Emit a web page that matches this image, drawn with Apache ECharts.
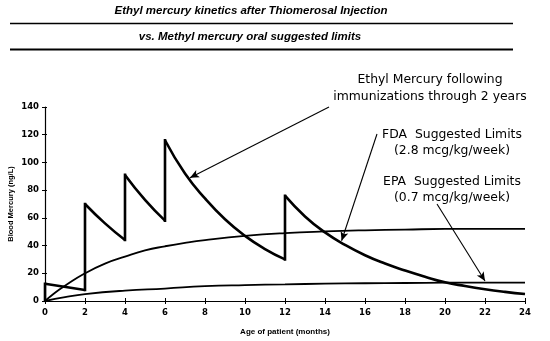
<!DOCTYPE html>
<html>
<head>
<meta charset="utf-8">
<script src="https://cdn.jsdelivr.net/npm/echarts@6/dist/echarts.min.js"></script>
<style>
html,body{margin:0;padding:0;background:#fff;}
#chart{width:550px;height:341px;}
</style>
</head>
<body>
<div id="chart"></div>
<script>
// Age (months) and blood mercury (ng/L)
var ethylX = [0, 0, 2, 2, 3, 4, 4, 5, 6, 6, 7, 8, 9, 10, 11, 12, 12, 13, 14, 15, 16, 17, 18, 19, 20, 21, 22, 23, 24];
var ethylY = [0, 12.5, 8, 70, 56, 44, 91, 73, 58, 116, 92, 74, 59, 47, 37.5, 30, 76, 61, 49.5, 40.5, 33, 27, 22, 17.5, 13.5, 10.8, 8.5, 6.6, 5];

var fdaX = [0, 0.5, 1, 2, 3, 4, 5, 6, 7, 8, 10, 12, 14, 16, 18, 20, 22, 24];
var fdaY = [0, 6, 11, 20, 27, 32, 36.5, 39.5, 42, 44, 47, 49, 50.2, 51, 51.5, 52, 52, 52];

var epaX = [0, 1, 2, 4, 6, 8, 10, 12, 14, 16, 18, 20, 22, 24];
var epaY = [0, 2.8, 5, 7.5, 9, 10.7, 11.5, 12, 12.5, 12.8, 13, 13.2, 13.3, 13.3];

var xTicks = [0, 2, 4, 6, 8, 10, 12, 14, 16, 18, 20, 22, 24];
var yTicks = [0, 20, 40, 60, 80, 100, 120, 140];

var titleLines = ['Ethyl mercury kinetics after Thiomerosal Injection', 'vs. Methyl mercury oral suggested limits'];
var noteEthyl = ['Ethyl Mercury following', 'immunizations through 2 years'];
var noteFda = ['FDA  Suggested Limits', '(2.8 mcg/kg/week)'];
var noteEpa = ['EPA  Suggested Limits', '(0.7 mcg/kg/week)'];

// arrow endpoints in data units [from, to]
var arrowEthyl = [[14.2, 140], [7.25, 89]];
var arrowFda = [[16.6, 120.5], [14.83, 43.5]];
var arrowEpa = [[19.6, 70], [22, 14.4]];

function pairs(xs, ys) { return xs.map(function (x, i) { return [x, ys[i]]; }); }

var chart = echarts.init(document.getElementById('chart'), null, {renderer: 'canvas'});

var series = [];
var pts = pairs(ethylX, ethylY);
var seg = [];
function pushSeg(s) {
  if (s.length > 1) series.push({type: 'line', data: s, smooth: s.length > 2 ? 0.5 : false, showSymbol: false,
    lineStyle: {color: '#000', width: 2.6}, animation: false, silent: true});
}
for (var i = 0; i < pts.length; i++) {
  if (i > 0 && pts[i][0] === pts[i - 1][0]) {
    pushSeg(seg);
    series.push({type: 'line', data: [pts[i - 1], pts[i]], showSymbol: false,
      lineStyle: {color: '#000', width: 2.6, cap: 'square'}, animation: false, silent: true});
    seg = [pts[i]];
  } else {
    seg.push(pts[i]);
  }
}
pushSeg(seg);

series.push({type: 'line', data: pairs(fdaX, fdaY), smooth: 0.5, showSymbol: false,
  lineStyle: {color: '#000', width: 1.8}, animation: false, silent: true});
series.push({type: 'line', data: pairs(epaX, epaY), smooth: 0.5, showSymbol: false,
  lineStyle: {color: '#000', width: 1.8}, animation: false, silent: true,
  markLine: {
    silent: true, animation: false, symbol: ['none', 'arrow'], symbolSize: [6, 9],
    label: {show: false},
    lineStyle: {color: '#000', width: 1.1, type: 'solid'},
    data: [arrowEthyl, arrowFda, arrowEpa].map(function (a) { return [{coord: a[0]}, {coord: a[1]}]; })
  }});

var tickFont = {fontFamily: 'DejaVu Sans', fontWeight: 'bold', fontSize: 8.5, color: '#000'};
var noteFont = '12.4px "DejaVu Sans", sans-serif';

var graphic = [
  {type: 'text', position: [251, 11], style: {text: titleLines[0], textAlign: 'center', textVerticalAlign: 'middle',
    font: 'italic bold 11.5px "Liberation Sans", Arial, sans-serif', fill: '#000'}},
  {type: 'line', shape: {x1: 10, y1: 23.5, x2: 513, y2: 23.5}, style: {stroke: '#000', lineWidth: 1.4}},
  {type: 'text', position: [250, 37], style: {text: titleLines[1], textAlign: 'center', textVerticalAlign: 'middle',
    font: 'italic bold 11.5px "Liberation Sans", Arial, sans-serif', fill: '#000'}},
  {type: 'line', shape: {x1: 10, y1: 49.5, x2: 513, y2: 49.5}, style: {stroke: '#000', lineWidth: 2}}
];
function note(lines, cx, y1, y2) {
  graphic.push({type: 'text', position: [cx, y1], style: {text: lines[0], textAlign: 'center', textVerticalAlign: 'middle',
    font: noteFont, fill: '#000'}});
  graphic.push({type: 'text', position: [cx, y2], style: {text: lines[1], textAlign: 'center', textVerticalAlign: 'middle',
    font: noteFont, fill: '#000'}});
}
note(noteEthyl, 430, 80, 97);
note(noteFda, 452, 135, 151);
note(noteEpa, 452, 182, 198);

chart.setOption({
  animation: false,
  backgroundColor: '#fff',
  grid: {left: 45, right: 25, top: 107, bottom: 40, containLabel: false, outerBoundsMode: 'none'},
  xAxis: [{
    type: 'value', min: 0, max: 24, interval: 2, position: 'bottom',
    name: 'Age of patient (months)', nameLocation: 'middle', nameGap: 27,
    nameTextStyle: {fontFamily: 'Liberation Sans', fontWeight: 'bold', fontSize: 8, color: '#000'},
    axisLine: {show: true, lineStyle: {color: '#000', width: 1}},
    axisTick: {show: true, inside: false, length: 3, lineStyle: {color: '#000', width: 1}},
    axisLabel: Object.assign({margin: 7}, tickFont),
    splitLine: {show: false}
  }, {
    type: 'value', min: 0, max: 24, interval: 2, position: 'bottom',
    axisLine: {show: false},
    axisTick: {show: true, inside: true, length: 3, lineStyle: {color: '#000', width: 1}},
    axisLabel: {show: false}, splitLine: {show: false}
  }],
  yAxis: [{
    type: 'value', min: 0, max: 140, interval: 20, position: 'left',
    name: 'Blood Mercury (ng/L)', nameLocation: 'middle', nameGap: 30, nameRotate: 90, nameMoveOverlap: false,
    nameTextStyle: {fontFamily: 'Liberation Sans', fontWeight: 'bold', fontSize: 7.5, color: '#000'},
    axisLine: {show: true, lineStyle: {color: '#000', width: 1.2}},
    axisTick: {show: true, inside: false, length: 3, lineStyle: {color: '#000', width: 1}},
    axisLabel: Object.assign({margin: 6}, tickFont),
    splitLine: {show: false}
  }, {
    type: 'value', min: 0, max: 140, interval: 20, position: 'left',
    axisLine: {show: false},
    axisTick: {show: true, inside: true, length: 2, lineStyle: {color: '#000', width: 1}},
    axisLabel: {show: false}, splitLine: {show: false}
  }],
  series: series,
  graphic: graphic
});
</script>
</body>
</html>
